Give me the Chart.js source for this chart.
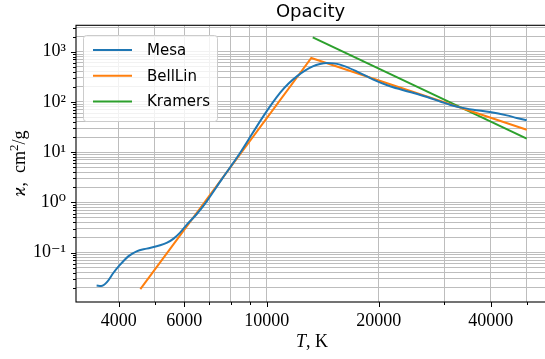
<!DOCTYPE html>
<html>
<head>
<meta charset="utf-8">
<script src="https://cdn.jsdelivr.net/npm/chart.js@4.4.1/dist/chart.umd.min.js"></script>
<style>
  html, body { margin: 0; padding: 0; background: #fff; overflow: hidden; }
  #wrap { width: 545px; height: 359px; }
</style>
</head>
<body>
<div id="wrap"><canvas id="chart" width="545" height="359"></canvas></div>
<script>
// values (T in K, opacity in cm^2/g)
const mesaT = [3490, 3590, 3715, 3870, 4015, 4245, 4470, 4760, 5170, 5400, 5620, 5850, 6100, 6480, 6900,
  7600, 8480, 9790, 10860, 11450, 12100, 12700, 13300, 13900, 14500, 15100, 15740, 17450, 19350, 21450,
  24280, 27000, 29500, 31100, 33100, 35900, 39800, 44200, 47000, 50000];
const mesaK = [0.0222, 0.0216, 0.0255, 0.0392, 0.0548, 0.084, 0.106, 0.120, 0.140, 0.158, 0.190, 0.250, 0.36, 0.58, 1.05,
  3.0, 9.6, 51.7, 151, 232, 330, 425, 510, 568, 595, 586, 553, 407, 278, 205,
  158, 125, 100, 88, 78, 70, 63, 54, 48, 43];

const bellLinT = [4575, 13180, 50000];
const bellLinK = [0.0188, 750, 28];

const kramersT = [13300, 50000];
const kramersK = [1930, 18.6];

const seriesNames = ['Mesa', 'BellLin', 'Kramers'];
const seriesColors = ['#1f77b4', '#ff7f0e', '#2ca02c'];

// axes
const xMin = 3072, xMax = 55990;
const yMin = 0.01038, yMax = 3357;
const xTickValues = [4000, 6000, 10000, 20000, 40000];
const xTickLabels = ['4000', '6000', '10000', '20000', '40000'];
const yTickValues = [0.1, 1, 10, 100, 1000];
const yTickLabels = ['10⁻¹', '10⁰', '10¹', '10²', '10³'];

const SERIF = '"Liberation Serif", "DejaVu Serif", serif';
const SANS = '"DejaVu Sans", sans-serif';

// minor grid positions: 1..9 times each decade
function logGrid(lo, hi) {
  const out = [];
  for (let e = -3; e <= 5; e++) {
    for (let m = 1; m <= 9; m++) {
      const v = m * Math.pow(10, e);
      if (v >= lo && v <= hi) out.push(v);
    }
  }
  return out;
}
const xGrid = logGrid(xMin, xMax);
const yGrid = logGrid(yMin, yMax);

function isMajor(list, v) {
  return list.some(t => Math.abs(t - v) / t < 1e-6);
}
function labelFor(values, labels, v) {
  const i = values.findIndex(t => Math.abs(t - v) / t < 1e-6);
  return i < 0 ? '' : labels[i];
}

function pts(xs, ys) {
  return xs.map((x, i) => ({ x, y: ys[i] }));
}

const decor = {
  id: 'decor',
  afterDraw(chart) {
    const { ctx, chartArea: a, scales: { x, y } } = chart;
    ctx.save();

    // spines (right one sits just outside the canvas)
    ctx.strokeStyle = '#000';
    ctx.lineWidth = 1.1;
    ctx.strokeRect(a.left, a.top, a.right + 10 - a.left, a.bottom - a.top);

    // tick marks, outward
    ctx.lineWidth = 1;
    xGrid.forEach(v => {
      const px = Math.round(x.getPixelForValue(v)) + 0.5;
      const len = isMajor(xTickValues, v) ? 5 : 3;
      ctx.beginPath(); ctx.moveTo(px, a.bottom); ctx.lineTo(px, a.bottom + len); ctx.stroke();
    });
    yGrid.forEach(v => {
      const py = Math.round(y.getPixelForValue(v)) + 0.5;
      const len = isMajor(yTickValues, v) ? 5 : 3;
      ctx.beginPath(); ctx.moveTo(a.left, py); ctx.lineTo(a.left - len, py); ctx.stroke();
    });

    // legend box
    const lx = 83, ly = 35, lw = 134, lh = 86;
    ctx.beginPath();
    ctx.roundRect(lx + 0.5, ly + 0.5, lw, lh, 3);
    ctx.fillStyle = 'rgba(255,255,255,0.8)';
    ctx.fill();
    ctx.strokeStyle = '#cccccc';
    ctx.stroke();
    ctx.font = '15px ' + SANS;
    ctx.textBaseline = 'middle';
    ctx.textAlign = 'left';
    chart.data.datasets.forEach((ds, i) => {
      const ry = 50 + i * 25.8;
      ctx.strokeStyle = ds.borderColor;
      ctx.lineWidth = 2;
      ctx.beginPath(); ctx.moveTo(93, ry); ctx.lineTo(132, ry); ctx.stroke();
      ctx.fillStyle = '#000';
      ctx.fillText(ds.label, 147, ry + 1);
    });

    // axis titles
    ctx.fillStyle = '#000';
    ctx.textBaseline = 'alphabetic';
    const cx = (a.left + a.right + 3) / 2;
    ctx.font = 'italic 18px ' + SERIF;
    const wT = ctx.measureText('T').width;
    ctx.font = '18px ' + SERIF;
    const wK = ctx.measureText(', K').width;
    let sx = cx - (wT + wK) / 2;
    ctx.font = 'italic 18px ' + SERIF;
    ctx.fillText('T', sx, 346.5);
    ctx.font = '18px ' + SERIF;
    ctx.fillText(', K', sx + wT, 346.5);

    // y title: ϰ, cm²/g
    const cy = (a.top + a.bottom) / 2;
    ctx.translate(25, cy);
    ctx.rotate(-Math.PI / 2);
    const parts = [
      { t: 'ϰ', f: 'italic 18px ' + SERIF, dy: 0 },
      { t: ',  ', f: '18px ' + SERIF, dy: 0 },
      { t: 'cm', f: '18px ' + SERIF, dy: 0 },
      { t: '2', f: '13px ' + SERIF, dy: -7 },
      { t: '/g', f: '18px ' + SERIF, dy: 0 }
    ];
    let total = 0;
    parts.forEach(p => { ctx.font = p.f; p.w = ctx.measureText(p.t).width; total += p.w; });
    let px = -total / 2;
    parts.forEach(p => { ctx.font = p.f; ctx.fillText(p.t, px, p.dy); px += p.w; });

    ctx.restore();
  }
};

const ctx = document.getElementById('chart').getContext('2d');
new Chart(ctx, {
  type: 'line',
  data: {
    datasets: [
      { label: seriesNames[0], data: pts(mesaT, mesaK), borderColor: seriesColors[0], cubicInterpolationMode: 'monotone' },
      { label: seriesNames[1], data: pts(bellLinT, bellLinK), borderColor: seriesColors[1], tension: 0 },
      { label: seriesNames[2], data: pts(kramersT, kramersK), borderColor: seriesColors[2], tension: 0 }
    ]
  },
  options: {
    responsive: false,
    animation: false,
    devicePixelRatio: 1,
    layout: { padding: 0 },
    elements: { point: { radius: 0 }, line: { borderWidth: 2, fill: false } },
    plugins: {
      legend: { display: false },
      tooltip: { enabled: false },
      title: {
        display: true, text: 'Opacity', fullSize: false, color: '#000',
        font: { family: SANS, size: 18, weight: 'normal', lineHeight: 1.2 },
        padding: { top: 2, bottom: 1.7 }
      }
    },
    scales: {
      x: {
        type: 'logarithmic', bounds: 'data', min: xMin, max: xMax,
        afterFit: s => { s.height = 57; },
        afterBuildTicks: s => { s.ticks = xGrid.map(v => ({ value: v })); },
        ticks: {
          autoSkip: false, maxRotation: 0, minRotation: 0, padding: 8, color: '#000',
          font: { family: SERIF, size: 18 },
          callback: v => labelFor(xTickValues, xTickLabels, v)
        },
        grid: { color: '#bdbdbd', lineWidth: 1, drawTicks: false },
        border: { display: false }
      },
      y: {
        type: 'logarithmic', bounds: 'data', min: yMin, max: yMax,
        afterFit: s => { s.width = 76; },
        afterBuildTicks: s => { s.ticks = yGrid.map(v => ({ value: v })); },
        ticks: {
          autoSkip: false, padding: 10, color: '#000',
          font: { family: SERIF, size: 18 },
          callback: v => labelFor(yTickValues, yTickLabels, v)
        },
        grid: { color: '#bdbdbd', lineWidth: 1, drawTicks: false },
        border: { display: false }
      }
    }
  },
  plugins: [decor]
});
</script>
</body>
</html>
